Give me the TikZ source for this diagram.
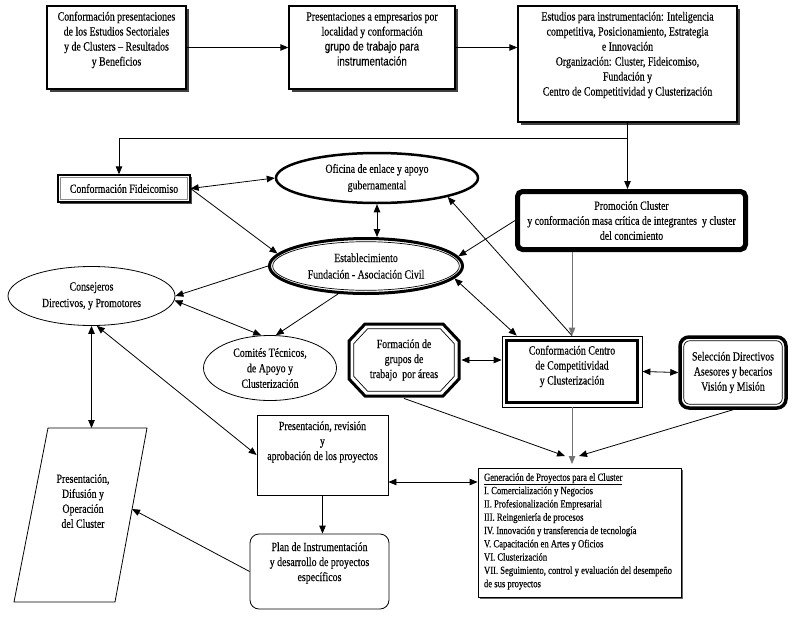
\documentclass[tikz,border=0pt]{standalone}
\usepackage{fontspec}
\setmainfont{Liberation Serif}[FakeStretch=0.79,FakeBold=0.3]
\setsansfont{Liberation Sans}[FakeStretch=0.79,FakeBold=0.3]
\usetikzlibrary{arrows.meta,shadows,calc,shapes.geometric}
\newcommand{\topbox}[4]{\parbox[c][#2pt][t]{#1pt}{\centering\vspace*{#3pt}\strut #4}}
\begin{document}
\begin{tikzpicture}[x=1pt,y=-1pt,
  font=\fontsize{12.5}{15}\selectfont,
  line width=0.8pt,
  >={Triangle[length=8pt,width=6.5pt]},
  boxsh/.style={draw, line width=1.3pt, fill=white, inner sep=0pt,
    drop shadow={shadow xshift=3pt,shadow yshift=-3pt,fill=black!75,opacity=1}},
  plainbox/.style={draw, line width=0.8pt, inner sep=0pt, align=center},
  ell/.style={ellipse, draw, inner sep=0pt, align=center, font=\fontsize{12.5}{16.5}\selectfont},
  gline/.style={draw=black!55}
]
\useasboundingbox (0,0) rectangle (800,616);

% top row
\node[boxsh] (A) at (116.5,47.5) {\topbox{139}{83}{4}{Conformación presentaciones\\de los Estudios Sectoriales\\y de Clusters – Resultados\\y Beneficios}};
\node[boxsh] (B) at (372,47.5) {\topbox{166}{83}{4}{Presentaciones a empresarios por\\localidad y conformación\\{\sffamily grupo de trabajo para}\\{\sffamily instrumentación}}};
\node[boxsh] (C) at (627.5,64) {\topbox{219}{116}{4}{Estudios para instrumentación: Inteligencia\\competitiva, Posicionamiento, Estrategia\\e Innovación\\Organización: Cluster, Fideicomiso,\\Fundación y\\Centro de Competitividad y Clusterización}};

% Fideicomiso
\node[draw, line width=1.3pt, fill=white, minimum width=132, minimum height=27, inner sep=0pt,
  drop shadow={shadow xshift=2pt,shadow yshift=-2pt,fill=black!70,opacity=1}] (Fid) at (124,188.5) {Conformación Fideicomiso};
\draw[black!45, line width=0.7pt] ([shift={(3,3)}]Fid.north west) rectangle ([shift={(-3,-3)}]Fid.south east);

% Oficina
\node[ell, line width=2.5pt, minimum width=202, minimum height=50] (Ofi) at (377,178) {Oficina de enlace y apoyo\\gubernamental};

% Establecimiento
\node[ell, line width=3pt, minimum width=193, minimum height=55] (Est) at (366,266) {Establecimiento\\Fundación - Asociación Civil};
\draw[line width=0.7pt] (Est.center) ellipse [x radius=93.3, y radius=24.3];

% Promocion
\node[draw, line width=5pt, rounded corners=5pt, minimum width=228, minimum height=58, inner sep=0pt, align=center] (Prom) at (631.5,220.5) {Promoción Cluster\\y conformación masa crítica de integrantes~ y cluster\\del concimiento};

% Consejeros, Comites
\node[ell, minimum width=167, minimum height=59] (Cons) at (91.5,296) {Consejeros\\Directivos, y Promotores};
\node[ell, font=\fontsize{12.5}{15.5}\selectfont, minimum width=133, minimum height=65] (Com) at (270,368) {Comités Técnicos,\\de Apoyo y\\Clusterización};

% Formacion (octagon)
\node[inner sep=0pt, minimum width=114, minimum height=76, align=center] (Form) at (404,360) {Formación de\\grupos de\\trabajo~ por áreas};
\draw[line width=3pt, line join=miter] (365,324) -- (443,324) -- (459,341) -- (459,379) -- (443,396) -- (365,396) -- (349,379) -- (349,341) -- cycle;
\draw[line width=0.7pt] (367.7,328.7) -- (440.3,328.7) -- (454.3,343.7) -- (454.3,376.3) -- (440.3,391.3) -- (367.7,391.3) -- (353.7,376.3) -- (353.7,343.7) -- cycle;

% Centro
\node[plainbox] (Cen) at (572,371.5) {\topbox{140}{71}{8}{Conformación Centro\\de Competitividad\\y Clusterización}};
\draw[line width=3pt] ([shift={(5,5)}]Cen.north west) rectangle ([shift={(-5,-5)}]Cen.south east);

% Seleccion
\node[draw, line width=3.5pt, rounded corners=9pt, minimum width=106, minimum height=71, inner sep=0pt, align=center] (Sel) at (733,372.5) {Selección Directivos\\Asesores y becarios\\Visión y Misión};
\draw[line width=0.7pt, rounded corners=6pt] ([shift={(5.5,5.5)}]Sel.north west) rectangle ([shift={(-5.5,-5.5)}]Sel.south east);

% Presentacion, Plan
\node[plainbox] (Pres) at (322.5,455) {\topbox{131}{80}{4.5}{Presentación, revisión\\y\\aprobación de los proyectos}};
\node[plainbox, rounded corners=9pt] (Plan) at (319.5,571.5) {\topbox{139}{75}{6.5}{Plan de Instrumentación\\y desarrollo de proyectos\\específicos}};

% Generacion
\node[draw, fill=white, line width=0.8pt, inner xsep=6pt, inner ysep=0pt,
  drop shadow={shadow xshift=1.5pt,shadow yshift=-1.5pt,fill=black!60,opacity=1},
  font=\fontsize{10.9}{13.3}\selectfont] (Gen) at (579.5,532.5)
  {\parbox[c][129pt][t]{191pt}{\raggedright\vspace*{3.5pt}\strut\underline{Generación de Proyectos para el Cluster}\\
  I. Comercialización y Negocios\\
  II. Profesionalización Empresarial\\
  III. Reingeniería de procesos\\
  IV. Innovación y transferencia de tecnología\\
  V. Capacitación en Artes y Oficios\\
  VI. Clusterización\\
  VII. Seguimiento, control y evaluación del desempeño\\
  de sus proyectos}};

% Parallelogram
\coordinate (P1) at (48,428);
\coordinate (P2) at (147,428);
\coordinate (P3) at (115,602);
\coordinate (P4) at (14,602);
\draw (P1) -- (P2) -- (P3) -- (P4) -- cycle;
\node[align=center, inner sep=0pt] (Par) at (83,501) {Presentación,\\Difusión y\\Operación\\del Cluster};
\coordinate (Pr) at (132,509);

% connectors
\draw[->] (A.east) -- (B.west);
\draw[->] (B.east) -- (B.east -| C.west);
\coordinate (j) at (C.south |- 0,138);
\draw (C.south) -- (j);
\draw[->] (j) -| ([xshift=-5pt]Fid.north);
\draw[->] (j) -- (j |- Prom.north);

\draw[<->] (Fid.east) -- (Ofi.west);
\draw[->] (Fid.east) -- (Est.172);
\draw[<->] (Ofi.south) -- (Ofi.south |- Est.north);
\draw[->] (Prom.west) -- (Est.6);
\draw[->] (Cen.north) -- (Ofi.-15);
\draw[gline,->] (Prom.south -| Cen.north) -- (Cen.north);
\draw[<->] (Est.-8) -- (Cen.147);
\draw[->] (Est.west) -- (Cons.east);
\draw[<->] (Cons.-3) -- (Com.105);
\draw[->] (Est.-135) -- (Com.80);
\draw[<->] (Cons.south) -- (Cons.south |- P1);
\draw[<->] (Cons.-80) -- (Pres.west);
\draw[<->] (Form.east) -- (Form.east -| Cen.west);
\draw[<->] (Cen.east) -- (Sel.west);

\coordinate (g1) at (565,456);
\coordinate (g2) at (572,464);
\coordinate (g3) at (579,456);
\draw[->] (Form.south) -- (g1);
\draw[gline,->] (Cen.south) -- (g2);
\draw[->] (Sel.south) -- (g3);

\draw[<->] (Pres.east |- 0,482) -- (Gen.west |- 0,482);
\draw[->] (Pres.south) -- (Pres.south |- Plan.north);
\draw[->] (Plan.west) -- (Pr);
\end{tikzpicture}
\end{document}
